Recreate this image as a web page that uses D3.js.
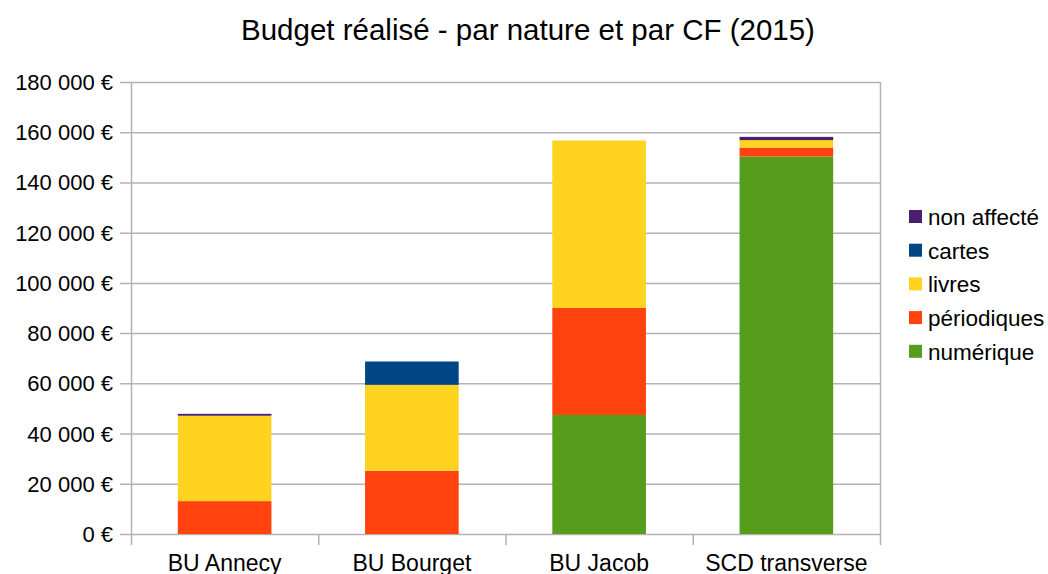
<!DOCTYPE html>
<html>
<head>
<meta charset="utf-8">
<script src="https://cdn.jsdelivr.net/npm/d3@7"></script>
<style>
  body { margin: 0; background: #fff; }
  text { font-family: "Liberation Sans", Arial, sans-serif; fill: #000; }
</style>
</head>
<body>
<svg id="chart" width="1048" height="574"></svg>
<script>
// categories and series (values in euros)
var categories = ["BU Annecy", "BU Bourget", "BU Jacob", "SCD transverse"];
var seriesNames = ["numérique", "périodiques", "livres", "cartes", "non affecté"];
var numerique   = [0, 0, 47400, 150300];
var periodiques = [13100, 25200, 42600, 3600];
var livres      = [34000, 34200, 66700, 2950];
var cartes      = [0, 9300, 0, 0];
var nonAffecte  = [750, 0, 0, 1300];
var yTicks = d3.range(0, 180001, 20000);
var colors = ["#579d1c", "#ff420e", "#ffd320", "#004586", "#4b1f6f"];

var allSeries = [numerique, periodiques, livres, cartes, nonAffecte];
var rows = categories.map(function(c, i) {
  var r = { cat: c };
  seriesNames.forEach(function(s, k) { r[s] = allSeries[k][i]; });
  return r;
});
var stacked = d3.stack().keys(seriesNames)(rows);

var svg = d3.select("#chart");
var plotL = 131, plotR = 880, plotT = 82, plotB = 534;

var x = d3.scaleBand().domain(categories).range([plotL, plotR]).paddingInner(0.5).paddingOuter(0.25);
var xb = d3.scaleBand().domain(categories).range([plotL, plotR]);
var y = d3.scaleLinear().domain([0, 180000]).range([plotB, plotT]);

var fmt = function(v) { return d3.format(",")(v).replace(/,/g, " ") + " €"; };

// grid
svg.append("g").selectAll("line").data(yTicks).enter().append("line")
  .attr("x1", plotL - 11).attr("x2", plotR)
  .attr("y1", function(d) { return y(d) + 0.5; }).attr("y2", function(d) { return y(d) + 0.5; })
  .attr("stroke", "#b3b3b3").attr("stroke-width", 1.5);

// verticals: axis line, right border, category ticks
var bounds = categories.map(function(c) { return xb(c); }).concat([plotR]);
svg.append("g").selectAll("line").data(bounds).enter().append("line")
  .attr("x1", function(d) { return d + 0.5; }).attr("x2", function(d) { return d + 0.5; })
  .attr("y1", function(d, i) { return (i === 0 || i === bounds.length - 1) ? plotT : plotB; })
  .attr("y2", plotB + 11)
  .attr("stroke", "#b3b3b3").attr("stroke-width", 1.5);

// bars
svg.append("g").selectAll("g").data(stacked).enter().append("g")
  .attr("fill", function(d, i) { return colors[i]; })
  .selectAll("rect").data(function(d) { return d; }).enter().append("rect")
  .attr("x", function(d) { return x(d.data.cat); })
  .attr("width", x.bandwidth())
  .attr("y", function(d) { return y(d[1]); })
  .attr("height", function(d) { return y(d[0]) - y(d[1]); });

// y labels
svg.append("g").selectAll("text").data(yTicks).enter().append("text")
  .attr("x", plotL - 18).attr("y", function(d) { return y(d) + 8; })
  .attr("text-anchor", "end").attr("font-size", "22px")
  .text(fmt);

// x labels
svg.append("g").selectAll("text").data(categories).enter().append("text")
  .attr("x", function(d) { return x(d) + x.bandwidth() / 2; })
  .attr("y", 571).attr("text-anchor", "middle").attr("font-size", "23px")
  .text(function(d) { return d; });

// title
svg.append("text").attr("x", 528).attr("y", 40).attr("text-anchor", "middle")
  .attr("font-size", "29.5px").text("Budget réalisé - par nature et par CF (2015)");

// legend (top item = last series)
var legendItems = seriesNames.map(function(s, i) { return { name: s, color: colors[i] }; }).reverse();
var lg = svg.append("g").selectAll("g").data(legendItems).enter().append("g")
  .attr("transform", function(d, i) { return "translate(909," + (210 + i * 33.7) + ")"; });
lg.append("rect").attr("width", 13).attr("height", 13).attr("fill", function(d) { return d.color; });
lg.append("text").attr("x", 19).attr("y", 15).attr("font-size", "22.5px").text(function(d) { return d.name; });
</script>
</body>
</html>
